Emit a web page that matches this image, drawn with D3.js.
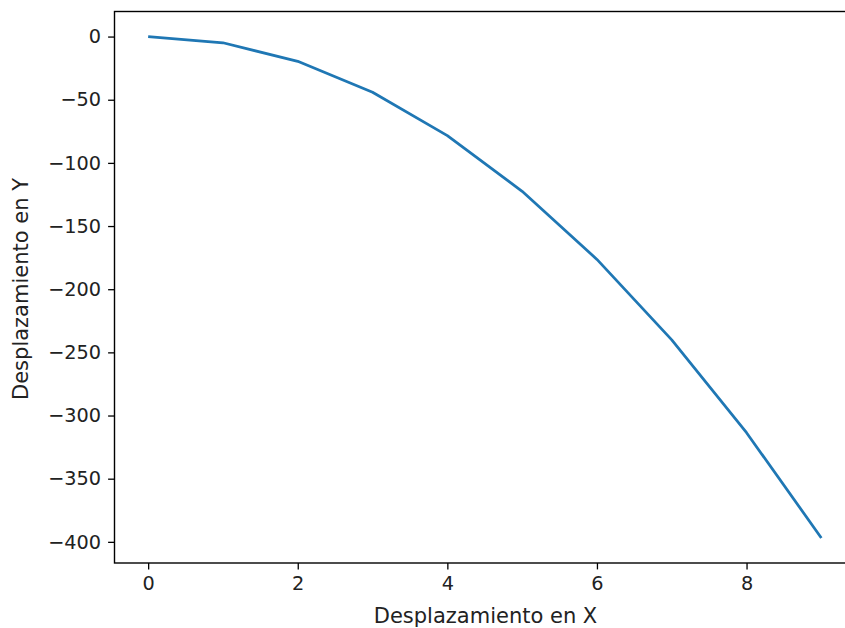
<!DOCTYPE html>
<html>
<head>
<meta charset="utf-8">
<script src="https://cdn.jsdelivr.net/npm/d3@7"></script>
<style>
body{margin:0;background:#fff;}
svg{display:block;font-family:"DejaVu Sans",sans-serif;}
</style>
</head>
<body>
<svg id="chart" width="845" height="628"></svg>
<script>
const xValues = [0,1,2,3,4,5,6,7,8,9];
const yValues = [0,-4.9,-19.6,-44.1,-78.4,-122.5,-176.4,-240.1,-313.6,-396.9];
const xTicks = [0,2,4,6,8];
const yTicks = [0,-50,-100,-150,-200,-250,-300,-350,-400];
const xLabel = "Desplazamiento en X";
const yLabel = "Desplazamiento en Y";

(function(){
const svg = d3.select("#chart");
const pL = 114.5, pR = 855, pT = 11.5, pB = 563;
const xExt = d3.extent(xValues), yExt = d3.extent(yValues);
const xPad = (xExt[1]-xExt[0])*0.05, yPad = (yExt[1]-yExt[0])*0.05;
const x = d3.scaleLinear().domain([xExt[0]-xPad, xExt[1]+xPad]).range([pL, pR]);
const y = d3.scaleLinear().domain([yExt[0]-yPad, yExt[1]+yPad]).range([pB, pT]);
const fs = 19.3, lfs = 21, tl = 6.4;

const fmt = d => d < 0 ? "\u2212" + Math.abs(d) : String(d);

const xAxis = svg.append("g").attr("transform", `translate(0,${pB})`)
  .call(d3.axisBottom(x).tickValues(xTicks).tickSize(tl).tickPadding(6.4).tickFormat(fmt));
const yAxis = svg.append("g").attr("transform", `translate(${pL},0)`)
  .call(d3.axisLeft(y).tickValues(yTicks).tickSize(tl).tickPadding(7).tickFormat(fmt));
[xAxis, yAxis].forEach(g => {
  g.select(".domain").remove();
  g.selectAll(".tick line").attr("stroke", "#000").attr("stroke-width", 1.3);
  g.selectAll(".tick text").attr("fill", "#222").style("font-size", fs + "px").style("font-family", "DejaVu Sans");
});

svg.append("rect").attr("x", pL).attr("y", pT).attr("width", pR-pL).attr("height", pB-pT)
  .attr("fill", "none").attr("stroke", "#000").attr("stroke-width", 1.4);

const line = d3.line().x((d,i) => x(xValues[i])).y(d => y(d));
svg.append("path").datum(yValues).attr("d", line).attr("fill", "none")
  .attr("stroke", "#1f77b4").attr("stroke-width", 2.75).attr("stroke-linejoin", "round").attr("stroke-linecap", "butt");

svg.append("text").attr("x", 485.5).attr("y", 622.5).attr("text-anchor", "middle")
  .style("font-size", lfs + "px").attr("fill", "#222").text(xLabel);
svg.append("text").attr("transform", `translate(28,289) rotate(-90)`).attr("text-anchor", "middle")
  .style("font-size", lfs + "px").attr("fill", "#222").text(yLabel);
})();
</script>
</body>
</html>
